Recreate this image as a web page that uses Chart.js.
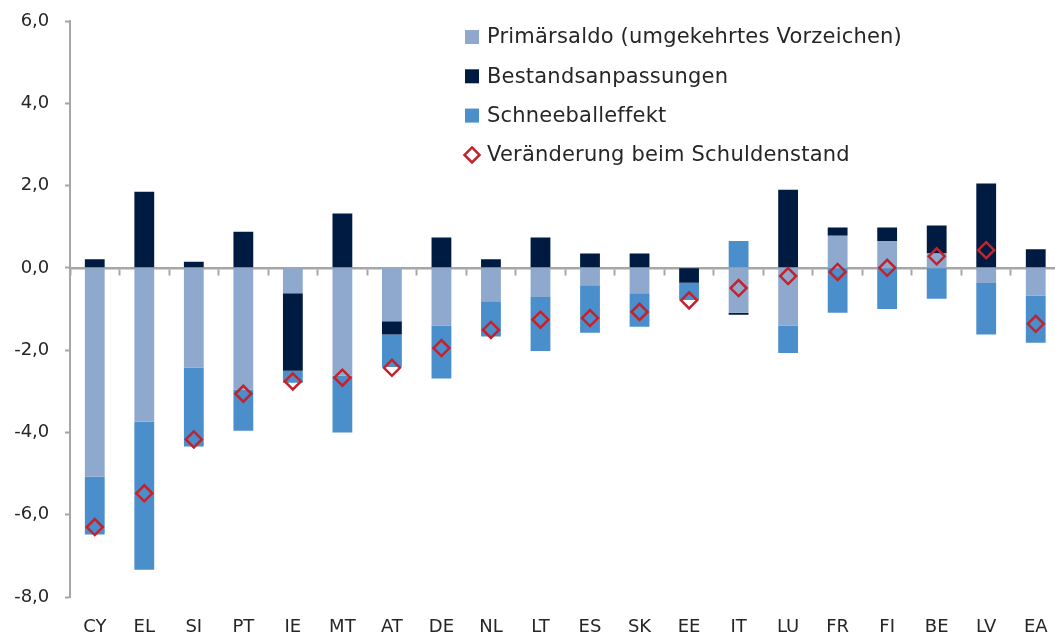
<!DOCTYPE html>
<html>
<head>
<meta charset="utf-8">
<script src="https://cdn.jsdelivr.net/npm/chart.js@4.4.1/dist/chart.umd.min.js"></script>
<style>
  html, body { margin: 0; padding: 0; background: #fff; overflow: hidden; }
  #wrap { position: relative; width: 1071px; height: 639px; }
</style>
</head>
<body>
<div id="wrap"><canvas id="debtChart" width="1071" height="639"></canvas></div>
<script>
// countries
const countries = ['CY','EL','SI','PT','IE','MT','AT','DE','NL','LT','ES','SK','EE','IT','LU','FR','FI','BE','LV','EA'];

// Primärsaldo (umgekehrtes Vorzeichen)
const primaryBalance = [-5.08,-3.74,-2.42,-2.96,-0.62,-2.62,-1.30,-1.40,-0.81,-0.71,-0.42,-0.62,0.00,-1.09,-1.40,0.78,0.65,0.35,-0.37,-0.67];
// Bestandsanpassungen
const stockFlow = [0.21,1.85,0.15,0.88,-1.88,1.32,-0.32,0.74,0.21,0.74,0.35,0.35,-0.36,-0.05,1.90,0.20,0.33,0.68,2.05,0.45];
// Schneeballeffekt
const snowball = [-1.40,-3.60,-1.92,-1.00,-0.29,-1.38,-0.79,-1.29,-0.86,-1.31,-1.16,-0.81,-0.42,0.65,-0.67,-1.09,-1.00,-0.75,-1.25,-1.15];
// Veränderung beim Schuldenstand
const debtChange = [-6.30,-5.48,-4.17,-3.06,-2.76,-2.67,-2.43,-1.95,-1.51,-1.26,-1.22,-1.07,-0.79,-0.49,-0.20,-0.10,0.00,0.28,0.43,-1.36];

const yTicks = [-8, -6, -4, -2, 0, 2, 4, 6];

const FONT = 'DejaVu Sans';
const TEXT = '#262626';
const AXIS = '#a6a6a6';

// vertical legend in the upper right
const legendPlugin = {
  id: 'sideLegend',
  afterDraw(chart) {
    const ctx = chart.ctx;
    const x = 465, y0 = 37, step = 39.3;
    ctx.save();
    ctx.font = '21px "' + FONT + '"';
    ctx.letterSpacing = '0.2px';
    ctx.textBaseline = 'middle';
    ctx.fillStyle = TEXT;
    chart.data.datasets.forEach((ds, i) => {
      const y = y0 + i * step;
      if (ds.type === 'line') {
        ctx.beginPath();
        ctx.moveTo(x + 7, y - 7.5);
        ctx.lineTo(x + 14.5, y);
        ctx.lineTo(x + 7, y + 7.5);
        ctx.lineTo(x - 0.5, y);
        ctx.closePath();
        ctx.strokeStyle = ds.borderColor;
        ctx.lineWidth = 2.5;
        ctx.stroke();
      } else {
        ctx.fillStyle = ds.backgroundColor;
        ctx.fillRect(x, y - 7, 14, 14);
      }
      ctx.fillStyle = TEXT;
      ctx.fillText(ds.label, x + 22, y + 1);
    });
    ctx.restore();
  }
};

const data = {
  labels: countries,
  datasets: [
    {
      label: 'Primärsaldo (umgekehrtes Vorzeichen)',
      data: primaryBalance,
      backgroundColor: '#8fa8cd',
      categoryPercentage: 0.4,
      barPercentage: 1
    },
    {
      label: 'Bestandsanpassungen',
      data: stockFlow,
      backgroundColor: '#001b42',
      categoryPercentage: 0.4,
      barPercentage: 1
    },
    {
      label: 'Schneeballeffekt',
      data: snowball,
      backgroundColor: '#4a8ecb',
      categoryPercentage: 0.4,
      barPercentage: 1
    },
    {
      type: 'line',
      label: 'Veränderung beim Schuldenstand',
      data: debtChange,
      stack: 'change',
      order: -1,
      showLine: false,
      borderColor: '#c4222b',
      backgroundColor: 'rgba(0,0,0,0)',
      pointStyle: 'rectRot',
      pointRadius: 8,
      pointBorderWidth: 2.5,
      pointBackgroundColor: 'rgba(0,0,0,0)',
      pointBorderColor: '#c4222b'
    }
  ]
};

var ctx = document.getElementById('debtChart').getContext('2d');

var myChart = new Chart(ctx, {
  type: 'bar',
  data: data,
  options: {
    responsive: false,
    animation: false,
    layout: { padding: { top: 21, right: 0, bottom: 0, left: 0 } },
    plugins: {
      legend: { display: false },
      tooltip: { enabled: false }
    },
    scales: {
      x: {
        stacked: true,
        grid: { display: false, drawTicks: false },
        border: { display: false },
        ticks: { color: TEXT, font: { family: FONT, size: 18, lineHeight: 2 }, padding: 12, maxRotation: 0, autoSkip: false },
        afterFit(scale) { scale.height = 42; }
      },
      // zero line with small marks between the countries
      x0: {
        type: 'category',
        position: { y: 0 },
        offset: true,
        grid: { offset: true, drawOnChartArea: false, drawTicks: true, tickLength: 6, tickWidth: 2, tickColor: AXIS },
        border: { display: true, color: AXIS, width: 2.5 },
        ticks: { display: false }
      },
      y: {
        stacked: true,
        min: -8,
        max: 6,
        afterBuildTicks(scale) { scale.ticks = yTicks.map(v => ({ value: v })); },
        grid: { drawOnChartArea: false, drawTicks: true, tickLength: 5, tickWidth: 2, tickColor: AXIS },
        border: { display: true, color: AXIS, width: 2 },
        ticks: {
          color: TEXT,
          font: { family: FONT, size: 18 },
          padding: 10,
          callback: v => v.toFixed(1).replace('.', ',') + ' '
        },
        afterFit(scale) { scale.width = 70; }
      }
    }
  },
  plugins: [legendPlugin]
});
</script>
</body>
</html>
